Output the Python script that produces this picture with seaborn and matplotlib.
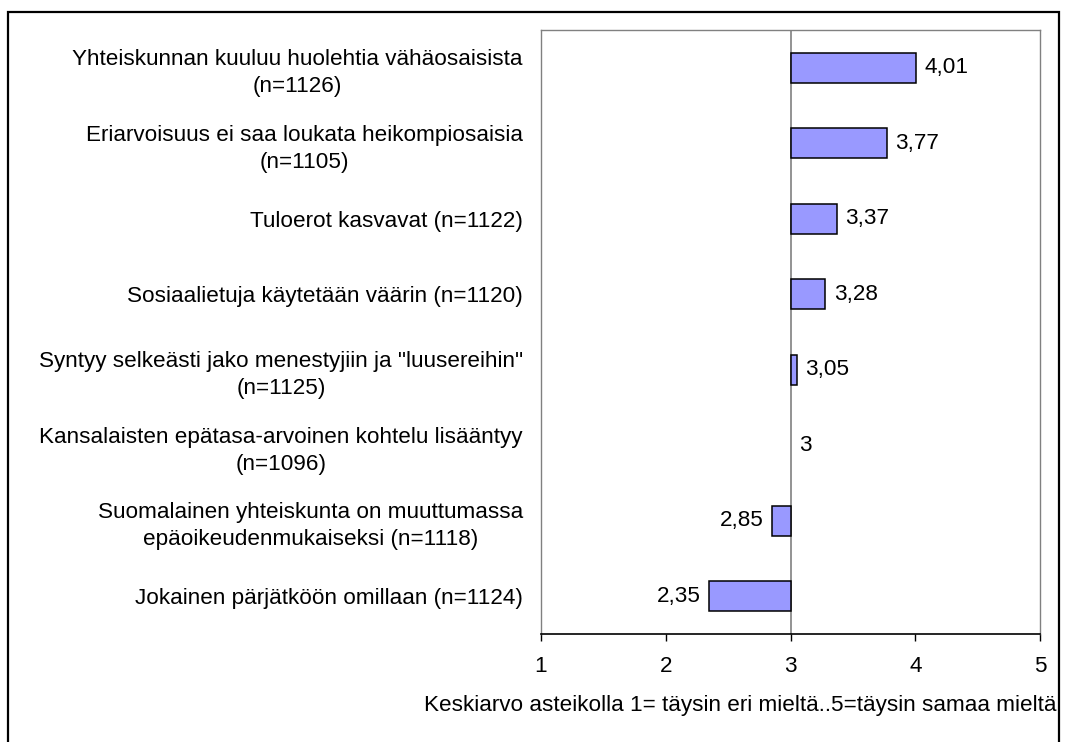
import numpy as np
import pandas as pd
import seaborn as sns
import matplotlib.pyplot as plt
from matplotlib.patches import Rectangle
from matplotlib.ticker import FixedLocator, FuncFormatter

statements = [
    "Yhteiskunnan kuuluu huolehtia vähäosaisista\n(n=1126)",
    "Eriarvoisuus ei saa loukata heikompiosaisia\n(n=1105)",
    "Tuloerot kasvavat (n=1122)",
    "Sosiaalietuja käytetään väärin (n=1120)",
    "Syntyy selkeästi jako menestyjiin ja \"luusereihin\"\n(n=1125)",
    "Kansalaisten epätasa-arvoinen kohtelu lisääntyy\n(n=1096)",
    "Suomalainen yhteiskunta on muuttumassa\nepäoikeudenmukaiseksi (n=1118)",
    "Jokainen pärjätköön omillaan (n=1124)",
]
means = [4.01, 3.77, 3.37, 3.28, 3.05, 3.00, 2.85, 2.35]
scale_ticks = [1, 2, 3, 4, 5]
midpoint = 3
xlabel = "Keskiarvo asteikolla 1= täysin eri mieltä..5=täysin samaa mieltä"

df = pd.DataFrame({"statement": statements, "mean": means})
df["diff"] = df["mean"] - midpoint

sns.set_style("white")
plt.rcParams["font.family"] = ["Liberation Sans", "DejaVu Sans"]
plt.rcParams["text.color"] = "black"
plt.rcParams["xtick.color"] = "black"
plt.rcParams["ytick.color"] = "black"
fs = 16.2

fig = plt.figure(figsize=(10.65, 7.42), dpi=100)
ax = fig.add_axes([541 / 1065, 108 / 742, 499 / 1065, 604 / 742])

sns.barplot(data=df, x="diff", y="statement", orient="h", color="#9999FF",
            edgecolor="black", linewidth=1.1, width=0.4, saturation=1, ax=ax)
for p in ax.patches:
    if p.get_width() == 0:
        p.set_linewidth(0)

ax.axvline(0, color="#808080", lw=1.2, zorder=0)
ax.set_xlim(scale_ticks[0] - midpoint, scale_ticks[-1] - midpoint)
ax.xaxis.set_major_locator(FixedLocator([t - midpoint for t in scale_ticks]))
ax.xaxis.set_major_formatter(FuncFormatter(lambda v, p: f"{v + midpoint:g}"))

labels = [f"{m:g}".replace(".", ",") for m in means]
ax.bar_label(ax.containers[0], labels=labels, padding=6, fontsize=fs)

ax.set_xlabel("")
ax.set_ylabel("")
ax.tick_params(axis="x", direction="out", length=5, width=1, color="black",
               labelsize=fs, pad=11, bottom=True)
ax.tick_params(axis="y", length=0, labelsize=fs, pad=13)
for t in ax.get_yticklabels():
    t.set_multialignment("center")
    t.set_linespacing(1.38)

for side in ["top", "right", "left"]:
    ax.spines[side].set_color("#808080")
    ax.spines[side].set_linewidth(1)
ax.spines["bottom"].set_color("black")
ax.spines["bottom"].set_linewidth(1.2)

fig.text(1057 / 1065, 1 - 705 / 742, xlabel, ha="right", va="center", fontsize=fs)

fig.patches.append(Rectangle((8 / 1065, -0.1), 1051 / 1065, 1.1 - 12 / 742,
                             transform=fig.transFigure, fill=False,
                             edgecolor="black", lw=1.6))

fig.savefig("out.png", dpi=100)
